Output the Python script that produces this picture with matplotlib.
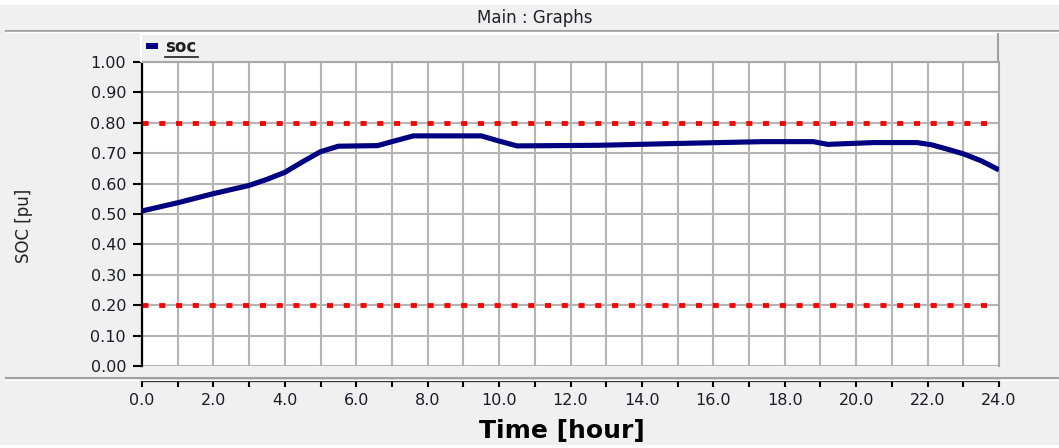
import matplotlib
matplotlib.use("Agg")
import matplotlib.pyplot as plt
from matplotlib.lines import Line2D
from matplotlib.patches import Rectangle

# ---- data ----
time_h = [0, 1, 2, 3, 3.5, 4, 4.5, 5, 5.5, 6.6, 7.0, 7.6, 9.5, 10.0, 10.5,
          12.8, 15.0, 17.4, 18.8, 19.2, 20.5, 21.7, 22.1, 22.5, 23.0, 23.5, 24.0]
soc = [0.51, 0.537, 0.567, 0.594, 0.614, 0.637, 0.672, 0.705, 0.723, 0.725,
       0.738, 0.757, 0.757, 0.740, 0.724, 0.726, 0.732, 0.738, 0.738, 0.729,
       0.735, 0.735, 0.728, 0.715, 0.698, 0.675, 0.645]
soc_limits = [0.2, 0.8]
x_ticks = [0, 2, 4, 6, 8, 10, 12, 14, 16, 18, 20, 22, 24]
x_ticklabels = ["%.1f" % t for t in x_ticks]
y_ticks = [i / 10 for i in range(11)]
y_ticklabels = ["%.2f" % t for t in y_ticks]
title_text = "Main : Graphs"
series_name = "soc"
xlabel = "Time [hour]"
ylabel = "SOC [pu]"

W, H = 1059, 448
BG = "#f0f0f0"
fig = plt.figure(figsize=(W / 100, H / 100), dpi=100, facecolor=BG)
plt.rcParams["font.family"] = ["DejaVu Sans"]

def fx(px):
    return px / W

def fy(py):
    return 1 - py / H

# plot area: x 142..999, y 62..366
ax = fig.add_axes([fx(142), fy(366), fx(999 - 142), (366 - 62) / H])
ax.set_facecolor("white")
ax.set_xlim(0, 24)
ax.set_ylim(0, 1)

ax.set_xticks(range(0, 25), minor=True)
ax.set_xticks(x_ticks)
ax.set_xticklabels(x_ticklabels)
ax.set_yticks(y_ticks)
ax.set_yticklabels(y_ticklabels)

ax.grid(True, which="both", color="#b4b4b4", linewidth=1.5, zorder=0)
ax.set_axisbelow(True)

for v in soc_limits:
    ax.plot([0, 23.66], [v, v], color="#ff0000", linewidth=3.5,
            linestyle=(0, (1.25, 2.2)), dash_capstyle="butt",
            solid_capstyle="butt", zorder=2)

ax.plot(time_h, soc, color="#000080", linewidth=3.7, zorder=3,
        solid_joinstyle="round", solid_capstyle="butt")

# spines
ax.spines["top"].set_color("#a8a8a8")
ax.spines["top"].set_linewidth(1.5)
ax.spines["right"].set_color("#a8a8a8")
ax.spines["right"].set_linewidth(1.5)
ax.spines["left"].set_color("black")
ax.spines["left"].set_linewidth(1.6)
ax.spines["bottom"].set_position(("outward", 11))
ax.spines["bottom"].set_color("black")
ax.spines["bottom"].set_linewidth(1.6)

ax.tick_params(axis="y", which="major", length=6.5, width=1.5, color="black",
               pad=5, labelsize=11.5, labelcolor="#1c1c28")
ax.tick_params(axis="x", which="both", length=4.5, width=1.5, color="black",
               pad=4, labelsize=11.5, labelcolor="#1c1c28", direction="out")
ax.tick_params(axis="x", which="minor", labelbottom=False)

# axis labels
fig.text(fx(562), fy(431), xlabel, ha="center", va="center",
         fontsize=18, fontweight="bold", color="black")
fig.text(fx(24), fy(226), ylabel, ha="center", va="center", rotation=90,
         fontsize=12, color="#202020")

# title bar
fig.patches.append(Rectangle((0, fy(5)), 1, 5 / H, transform=fig.transFigure,
                             facecolor="white", edgecolor="none", zorder=0))
fig.text(fx(535), fy(18), title_text, ha="center", va="center",
         fontsize=12, color="#202028")
fig.lines.append(Line2D([fx(6), 1], [fy(31), fy(31)], color="#a0a0a0",
                        linewidth=1.5, transform=fig.transFigure))
fig.lines.append(Line2D([fx(6), 1], [fy(32.5), fy(32.5)], color="white",
                        linewidth=1.0, transform=fig.transFigure))

# legend panel
fig.lines.append(Line2D([fx(141), fx(998)], [fy(34), fy(34)], color="white",
                        linewidth=1.5, transform=fig.transFigure))
fig.lines.append(Line2D([fx(141), fx(141)], [fy(34), fy(61)], color="white",
                        linewidth=1.5, transform=fig.transFigure))
fig.lines.append(Line2D([fx(998), fx(998)], [fy(34), fy(61)], color="#a0a0a0",
                        linewidth=1.5, transform=fig.transFigure))
fig.patches.append(Rectangle((fx(146), fy(49)), 12 / W, 6 / H,
                             transform=fig.transFigure, facecolor="#000080",
                             edgecolor="none"))
fig.text(fx(165), fy(47), series_name, ha="left", va="center",
         fontsize=12, fontweight="bold", color="#202020")
fig.lines.append(Line2D([fx(165), fx(198)], [fy(57), fy(57)], color="#202020",
                        linewidth=1.2, transform=fig.transFigure))

# separator lines
fig.lines.append(Line2D([fx(6), 1], [fy(378), fy(378)], color="#a0a0a0",
                        linewidth=1.5, transform=fig.transFigure))
fig.lines.append(Line2D([fx(6), 1], [fy(379.5), fy(379.5)], color="white",
                        linewidth=1.0, transform=fig.transFigure))
fig.lines.append(Line2D([0, 1], [fy(446), fy(446)], color="white",
                        linewidth=2, transform=fig.transFigure))

fig.savefig("out.png", dpi=100, facecolor=BG)
